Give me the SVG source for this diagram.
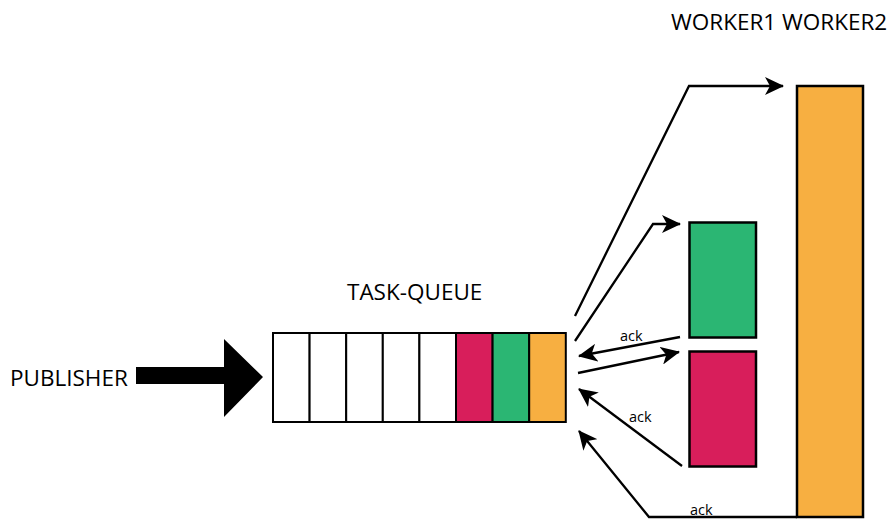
<svg xmlns="http://www.w3.org/2000/svg" width="888" height="520" viewBox="0 0 888 520">
  <style>
    .label { font-family: "Open Sans", "Liberation Sans", sans-serif; fill: #000; }
    .big { font-size: 22.5px; }
    .small { font-size: 14.5px; }
    .cell { stroke: #000; stroke-width: 2; }
    .box { stroke: #000; stroke-width: 2.5; }
    .link { fill: none; stroke: #000; stroke-width: 2.3; }
    .empty { fill: #fff; }
    .red { fill: #D81E5B; }
    .green { fill: #2BB673; }
    .orange { fill: #F7AF41; }
  </style>
  <defs>
    <marker id="head" markerUnits="userSpaceOnUse" markerWidth="20" markerHeight="18" viewBox="0 0 20 18" refX="18" refY="9" orient="auto">
      <path d="M0,0 L19,9 L0,18 L5,9 Z" fill="#000"/>
    </marker>
  </defs>

  <rect width="888" height="520" fill="#fff"/>

  <!-- publisher -->
  <g id="publisher">
    <text class="label big" x="10" y="386">PUBLISHER</text>
    <path d="M136,367 L224,367 L224,339 L263,377 L224,417 L224,384 L136,384 Z" fill="#000"/>
  </g>

  <!-- task queue -->
  <g id="task-queue">
    <text class="label big" x="347" y="300">TASK-QUEUE</text>
    <rect class="cell empty" x="273" y="333" width="36.6" height="89"/>
    <rect class="cell empty" x="309.6" y="333" width="36.6" height="89"/>
    <rect class="cell empty" x="346.2" y="333" width="36.6" height="89"/>
    <rect class="cell empty" x="382.8" y="333" width="36.6" height="89"/>
    <rect class="cell empty" x="419.4" y="333" width="36.6" height="89"/>
    <rect class="cell red" x="456" y="333" width="36.6" height="89"/>
    <rect class="cell green" x="492.6" y="333" width="36.6" height="89"/>
    <rect class="cell orange" x="529.2" y="333" width="36.6" height="89"/>
  </g>

  <!-- worker titles -->
  <g id="worker-titles">
    <text class="label big" x="671" y="30">WORKER1 WORKER2</text>
  </g>

  <!-- workers -->
  <g id="worker1-green">
    <rect class="box green" x="689.5" y="222.5" width="66.5" height="115"/>
  </g>
  <g id="worker1-red">
    <rect class="box red" x="689.5" y="351.5" width="66.5" height="115"/>
  </g>
  <g id="worker2">
    <rect class="box orange" x="797" y="86" width="66" height="431"/>
  </g>

  <!-- connectors -->
  <g id="connectors">
    <polyline class="link" points="575,316 689,86 783,86" marker-end="url(#head)"/>
    <polyline class="link" points="575,341 653,224 680,224" marker-end="url(#head)"/>
    <line class="link" x1="680" y1="337" x2="579" y2="356" marker-end="url(#head)"/>
    <line class="link" x1="578" y1="373" x2="679" y2="352" marker-end="url(#head)"/>
    <line class="link" x1="682" y1="466" x2="579" y2="389" marker-end="url(#head)"/>
    <polyline class="link" points="797,517 649,517 579,431" marker-end="url(#head)"/>
    <text class="label small" x="620" y="341">ack</text>
    <text class="label small" x="629" y="422">ack</text>
    <text class="label small" x="690" y="515">ack</text>
  </g>
</svg>
